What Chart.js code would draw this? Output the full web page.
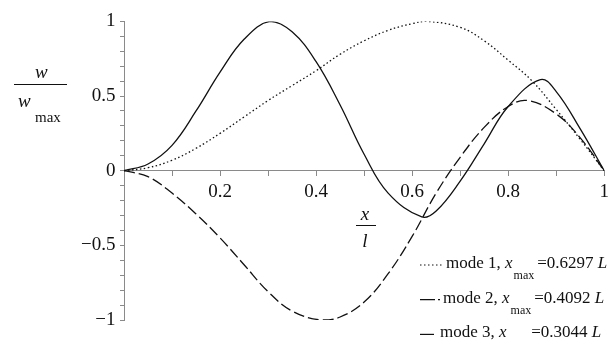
<!DOCTYPE html>
<html>
<head>
<meta charset="utf-8">
<script src="https://cdn.jsdelivr.net/npm/chart.js@4/dist/chart.umd.min.js"></script>
<style>
  html, body { margin: 0; padding: 0; background: #fff; }
  #wrap { width: 614px; height: 342px; }
</style>
</head>
<body>
<div id="wrap"><canvas id="chart" width="614" height="342"></canvas></div>
<script>
// values (x/l -> w/wmax)
const mode1X = [0, 0.05, 0.1, 0.15, 0.2, 0.25, 0.3, 0.35, 0.4, 0.45, 0.5, 0.55, 0.6, 0.63, 0.7, 0.75, 0.8, 0.85, 0.9, 0.95, 1];
const mode1Y = [0, 0.02, 0.07, 0.15, 0.25, 0.36, 0.47, 0.57, 0.67, 0.78, 0.87, 0.94, 0.985, 1.0, 0.96, 0.87, 0.74, 0.6, 0.41, 0.21, 0];

const mode2X = [0, 0.05, 0.1, 0.15, 0.2, 0.25, 0.3, 0.35, 0.41, 0.45, 0.5, 0.55, 0.6, 0.65, 0.7, 0.75, 0.8, 0.84, 0.9, 0.95, 1];
const mode2Y = [0, -0.04, -0.15, -0.29, -0.45, -0.63, -0.81, -0.94, -1.0, -0.98, -0.88, -0.69, -0.44, -0.15, 0.09, 0.29, 0.43, 0.47, 0.38, 0.22, 0];

const mode3X = [0, 0.05, 0.1, 0.15, 0.2, 0.25, 0.304, 0.35, 0.4, 0.45, 0.5, 0.55, 0.62, 0.65, 0.7, 0.75, 0.8, 0.867, 0.9, 0.95, 1];
const mode3Y = [0, 0.045, 0.17, 0.4, 0.66, 0.88, 1.0, 0.93, 0.73, 0.44, 0.11, -0.15, -0.31, -0.27, -0.07, 0.18, 0.43, 0.61, 0.53, 0.28, 0];

const xTickLabels = [0.2, 0.4, 0.6, 0.8, 1];
const yTickLabels = [1, 0.5, 0, -0.5, -1];

const legendRows = [
  { mode: 'mode 1, ', val: '=0.6297 ', style: 'dot' },
  { mode: 'mode 2, ', val: '=0.4092 ', style: 'dashdot' },
  { mode: 'mode 3, ', val: '=0.3044 ', style: 'solid' }
];

const serif = '"Liberation Serif", "Times New Roman", serif';
const ink = '#111';
const axisGray = '#8a8a8a';

function pts(xs, ys) {
  return xs.map((x, i) => ({ x: x, y: ys[i] }));
}

function near(v, list) {
  return list.some(t => Math.abs(t - v) < 1e-6);
}

function fmt(v) {
  if (Math.abs(v) < 1e-6) return '0';
  return v < 0 ? '\u2212' + Math.abs(v) : String(v);
}

const textPlugin = {
  id: 'texts',
  afterDraw(chart) {
    const ctx = chart.ctx;
    ctx.save();
    ctx.fillStyle = ink;
    ctx.strokeStyle = ink;
    ctx.textBaseline = 'alphabetic';
    ctx.textAlign = 'left';

    // y axis title  w / w_max
    ctx.font = 'italic 19px ' + serif;
    ctx.fillText('w', 35, 78);
    ctx.lineWidth = 1;
    ctx.beginPath();
    ctx.moveTo(14, 84.5);
    ctx.lineTo(67, 84.5);
    ctx.stroke();
    ctx.fillText('w', 18, 107);
    ctx.font = '15px ' + serif;
    ctx.fillText('max', 35, 122);

    // x axis title  x / l
    ctx.font = 'italic 19px ' + serif;
    ctx.textAlign = 'center';
    ctx.fillText('x', 365, 220);
    ctx.beginPath();
    ctx.moveTo(356, 225.5);
    ctx.lineTo(376, 225.5);
    ctx.stroke();
    ctx.fillText('l', 365, 247);

    // legend
    ctx.textAlign = 'left';
    legendRows.forEach((r, i) => {
      const base = 268 + i * 34.7;
      const ly = base - 3;
      ctx.lineWidth = 1.2;
      ctx.beginPath();
      if (r.style === 'dot') {
        ctx.setLineDash([1.5, 2.5]);
        ctx.moveTo(420, ly); ctx.lineTo(443, ly);
      } else if (r.style === 'dashdot') {
        ctx.setLineDash([]);
        ctx.moveTo(420, ly); ctx.lineTo(435, ly);
        ctx.moveTo(438, ly); ctx.lineTo(440, ly);
      } else {
        ctx.setLineDash([]);
        ctx.moveTo(420, ly); ctx.lineTo(434, ly);
      }
      ctx.stroke();
      ctx.setLineDash([]);

      let x = 446 - i * 3;
      ctx.font = '17px ' + serif;
      ctx.fillText(r.mode, x, base);
      x += ctx.measureText(r.mode).width;
      ctx.font = 'italic 17px ' + serif;
      ctx.fillText('x', x, base);
      x += ctx.measureText('x').width + 1;
      ctx.font = '12px ' + serif;
      ctx.fillText('max', x, base + 11);
      x += ctx.measureText('max').width + 3;
      ctx.font = '17px ' + serif;
      ctx.fillText(r.val, x, base);
      x += ctx.measureText(r.val).width;
      ctx.font = 'italic 17px ' + serif;
      ctx.fillText('L', x, base);
    });
    ctx.restore();
  }
};

const lineBase = {
  borderColor: ink,
  borderWidth: 1.3,
  pointRadius: 0,
  fill: false,
  tension: 0.4
};

new Chart(document.getElementById('chart'), {
  type: 'line',
  data: {
    datasets: [
      Object.assign({ label: 'mode 1', data: pts(mode1X, mode1Y), borderDash: [1.5, 2.5] }, lineBase),
      Object.assign({ label: 'mode 2', data: pts(mode2X, mode2Y), borderDash: [11, 4] }, lineBase),
      Object.assign({ label: 'mode 3', data: pts(mode3X, mode3Y) }, lineBase)
    ]
  },
  options: {
    responsive: false,
    animation: false,
    layout: { padding: { left: 124, right: 7, top: 16, bottom: 22 } },
    plugins: { legend: { display: false }, tooltip: { enabled: false } },
    scales: {
      x: {
        type: 'linear',
        min: 0,
        max: 1,
        position: { y: 0 },
        border: { color: axisGray, width: 1 },
        grid: { drawOnChartArea: false, tickLength: 5, color: axisGray },
        ticks: {
          stepSize: 0.1,
          autoSkip: false,
          maxRotation: 0,
          padding: 5,
          color: ink,
          font: { family: serif, size: 19 },
          callback: v => near(v, xTickLabels) ? fmt(v) : ''
        }
      },
      y: {
        type: 'linear',
        min: -1,
        max: 1,
        position: { x: 0 },
        border: { color: axisGray, width: 1 },
        grid: { drawOnChartArea: false, tickLength: 4, color: axisGray },
        ticks: {
          stepSize: 0.1,
          autoSkip: false,
          padding: 10,
          color: ink,
          font: { family: serif, size: 19 },
          // trailing spaces keep the right-aligned labels clear of the axis line
          callback: v => near(v, yTickLabels) ? fmt(v) + ' \u2009' : ''
        }
      }
    }
  },
  plugins: [textPlugin]
});
</script>
</body>
</html>
